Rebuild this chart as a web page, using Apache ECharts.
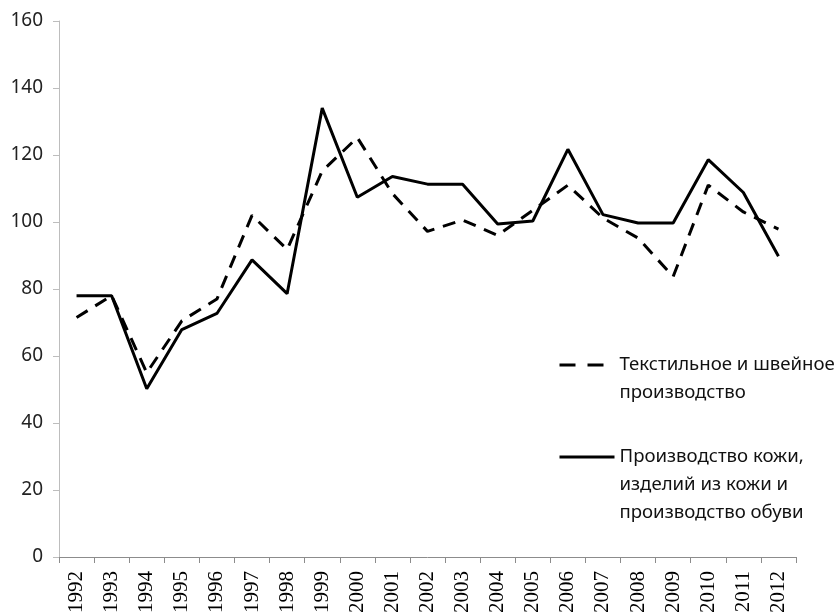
<!DOCTYPE html>
<html>
<head>
<meta charset="utf-8">
<script src="https://cdn.jsdelivr.net/npm/echarts@6/dist/echarts.min.js"></script>
<style>
  html, body { margin: 0; padding: 0; background: #fff; }
  #chart { width: 839px; height: 616px; }
</style>
</head>
<body>
<div id="chart"></div>
<script>
// годы
const years = ['1992','1993','1994','1995','1996','1997','1998','1999','2000','2001','2002',
               '2003','2004','2005','2006','2007','2008','2009','2010','2011','2012']
// текстильное и швейное производство (пунктир)
const textile = [71.5, 78, 55, 70.5, 77, 102, 91.8, 115.2, 125.2, 108.5, 97.2,
                 100.6, 96, 103.5, 111, 101.2, 95.2, 83.7, 111, 103, 97.9]
// производство кожи и обуви (сплошная)
const leather = [78, 78, 50.2, 67.9, 72.7, 88.7, 78.6, 134, 107.4, 113.6, 111.3,
                 111.3, 99.4, 100.3, 121.7, 102.2, 99.7, 99.7, 118.6, 108.8, 89.8]
const seriesNames = ['Текстильное и швейное\nпроизводство',
                     'Производство кожи,\nизделий из кожи и\nпроизводство обуви']
const yTicks = { min: 0, max: 160, step: 20 }

let chart = echarts.init(document.getElementById('chart'))

// значок легенды должен стоять напротив первой строки:
// добавляем пустые строки сверху, блок центрируется по значку
const legendFormatter = (name) => '\n'.repeat(name.split('\n').length - 1) + name

const legendText = {
    fontFamily: 'Noto Sans',
    fontSize: 18.6,
    color: '#111',
    lineHeight: 28
}
const hideSymbol = { color: 'rgba(0,0,0,0)', borderColor: 'rgba(0,0,0,0)', borderWidth: 0 }

let option = {
    animation: false,
    backgroundColor: '#fff',
    grid: { left: 59, right: 43, top: 21, bottom: 59, containLabel: false },
    legend: [{
        data: [seriesNames[0]],
        formatter: legendFormatter,
        left: 558,
        top: 323,
        padding: 0,
        itemWidth: 55,
        itemHeight: 14,
        itemStyle: hideSymbol,
        lineStyle: { width: 3, type: [16, 12] },
        textStyle: legendText
    }, {
        data: [seriesNames[1]],
        formatter: legendFormatter,
        left: 558,
        top: 387,
        padding: 0,
        itemWidth: 55,
        itemHeight: 14,
        itemStyle: hideSymbol,
        lineStyle: { width: 3 },
        textStyle: legendText
    }],
    xAxis: {
        type: 'category',
        data: years,
        boundaryGap: true,
        axisLine: { lineStyle: { color: '#8c8c8c', width: 1 } },
        axisTick: { show: true, length: 6, lineStyle: { color: '#8c8c8c' } },
        splitLine: { show: false },
        axisLabel: {
            interval: 0,
            rotate: 90,
            margin: 14,
            color: '#000',
            fontFamily: 'Liberation Serif',
            fontSize: 21
        }
    },
    yAxis: {
        type: 'value',
        min: yTicks.min,
        max: yTicks.max,
        interval: yTicks.step,
        axisLine: { show: true, lineStyle: { color: '#bdbdbd', width: 1 } },
        axisTick: { show: true, length: 6, lineStyle: { color: '#bdbdbd' } },
        splitLine: { show: false },
        axisLabel: {
            margin: 16,
            color: '#222',
            fontFamily: 'Noto Sans',
            fontSize: 19
        }
    },
    series: [{
        name: seriesNames[0],
        type: 'line',
        data: textile,
        symbol: 'none',
        lineStyle: { color: '#000', width: 3, type: [13, 9] },
        itemStyle: { color: '#000' }
    }, {
        name: seriesNames[1],
        type: 'line',
        data: leather,
        symbol: 'none',
        lineStyle: { color: '#000', width: 3 },
        itemStyle: { color: '#000' }
    }]
}

chart.setOption(option)
</script>
</body>
</html>
